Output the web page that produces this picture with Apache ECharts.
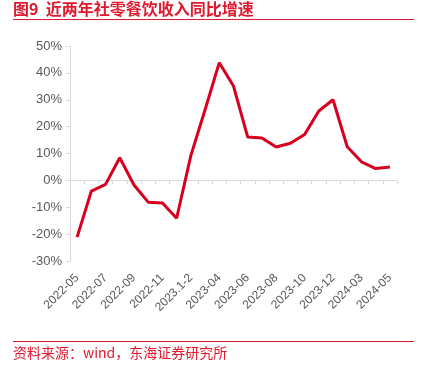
<!DOCTYPE html>
<html><head><meta charset="utf-8">
<script src="https://cdn.jsdelivr.net/npm/echarts@6/dist/echarts.min.js"></script>
<style>html,body{margin:0;padding:0;background:#fff}#c{width:436px;height:372px}</style>
</head><body><div id="c"></div>
<script>
const categories = ['2022-05','2022-06','2022-07','2022-08','2022-09','2022-10','2022-11','2022-12','2023.1-2','2023-03','2023-04','2023-05','2023-06','2023-07','2023-08','2023-09','2023-10','2023-11','2023-12','2024.1-2','2024-03','2024-04','2024-05'];
const growth = [-21.1,-4.0,-1.5,8.4,-1.7,-8.1,-8.4,-14.1,9.2,26.3,43.8,35.1,16.1,15.8,12.4,13.8,17.1,25.8,30.0,12.5,6.9,4.4,5.0];
const titleText = '图9  近两年社零餐饮收入同比增速';
const sourceText = '资料来源：wind，东海证券研究所';
const chart = echarts.init(document.getElementById('c'), null, {renderer:'canvas'});
const red = '#e0192e';
chart.setOption({
  animation:false,
  graphic:[
    {type:'text', left:13, top:1, style:{text:titleText, fill:red, font:'bold 16px "Noto Sans CJK SC"'}},
    {type:'line', shape:{x1:13,y1:19.5,x2:414,y2:19.5}, style:{stroke:red, lineWidth:1}},
    {type:'line', shape:{x1:13,y1:341.5,x2:414,y2:341.5}, style:{stroke:red, lineWidth:1}},
    {type:'text', left:13, top:346, style:{text:sourceText, fill:red, font:'14px "Noto Sans CJK SC"'}}
  ],
  grid:{left:70, right:39, top:46, bottom:111, containLabel:false, outerBoundsMode:'none'},
  xAxis:{type:'category', data:categories, boundaryGap:true,
    axisLine:{onZero:true, lineStyle:{color:'#d9d9d9', width:1}},
    axisTick:{show:true, interval:0, length:4, lineStyle:{color:'#d9d9d9'}},
    axisLabel:{interval:1, rotate:45, color:'#595959', fontSize:12, fontFamily:'Liberation Sans', margin:15}
  },
  yAxis:{type:'value', min:-30, max:50, interval:10,
    axisLine:{show:true, lineStyle:{color:'#d9d9d9'}},
    axisTick:{show:true, length:4, lineStyle:{color:'#d9d9d9'}},
    splitLine:{show:false},
    axisLabel:{formatter:'{value}%', color:'#595959', fontSize:13, fontFamily:'Liberation Sans', margin:8}
  },
  series:[{type:'line', data:growth, symbol:'none', lineStyle:{color:'#d7001f', width:3}}]
});
</script></body></html>
